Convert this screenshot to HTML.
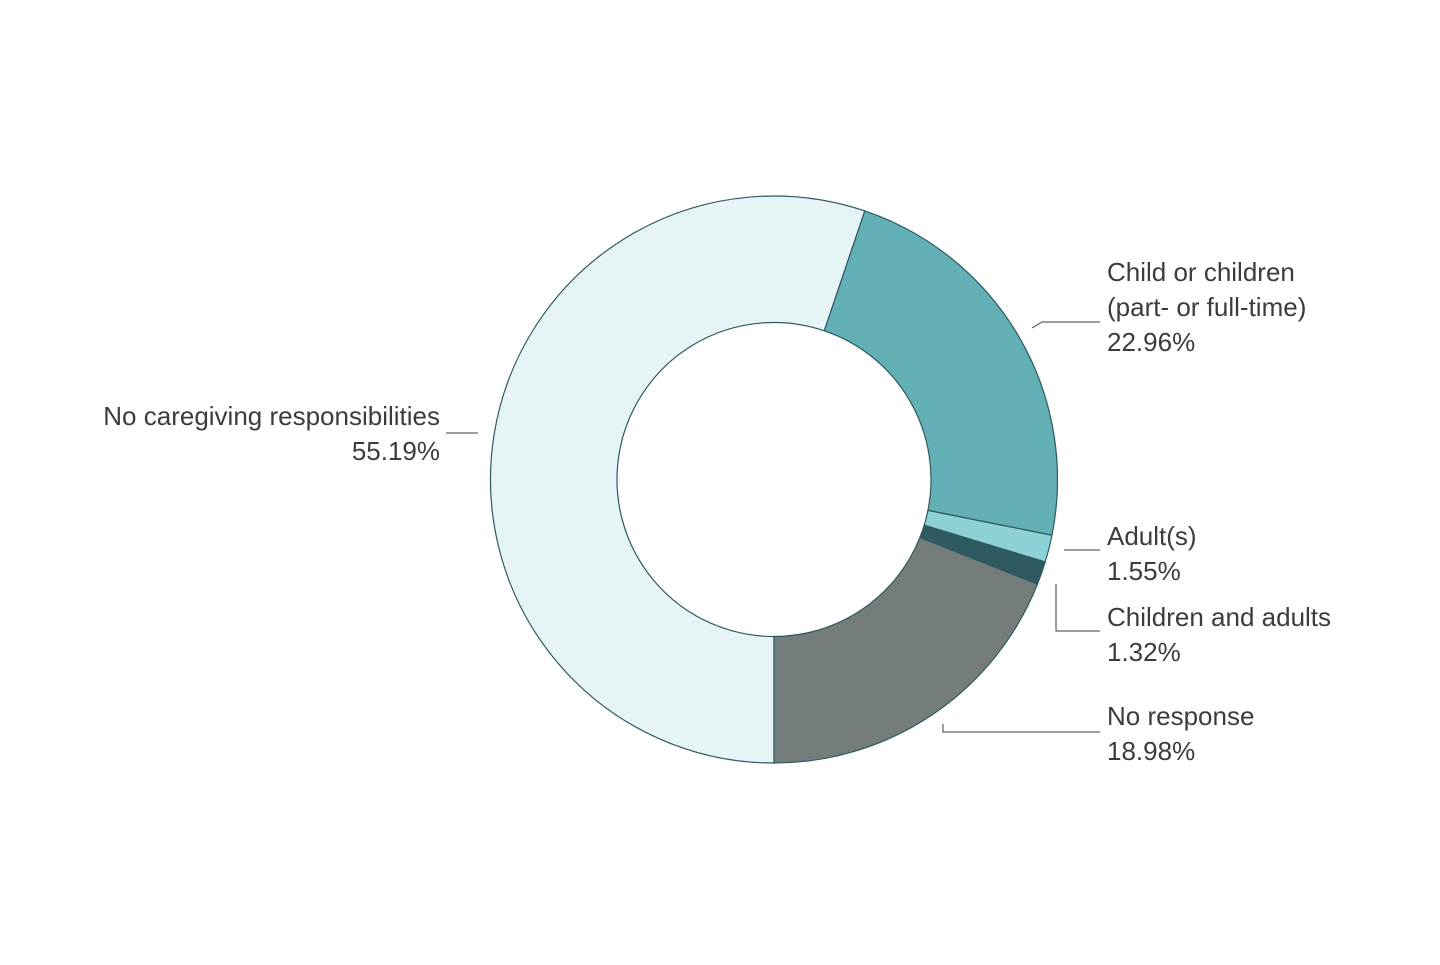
<!DOCTYPE html>
<html><head><meta charset="utf-8"><style>
html,body{margin:0;background:#fff;}
svg text{font-family:"Liberation Sans",sans-serif;font-size:26px;fill:#3a3d3d;}
</style></head><body>
<svg width="1440" height="960">
<g id="slices"></g><g id="labels"></g>
</svg>
<script>
const categories=["No caregiving responsibilities","Child or children (part- or full-time)","Adult(s)","Children and adults","No response"];
const values=[55.19,22.96,1.55,1.32,18.98];
const valueLabels=["55.19%","22.96%","1.55%","1.32%","18.98%"];
const colors=["#e6f4f6","#62b0b5","#8dd1d6","#2e5a60","#747d7b"];
const cx=774,cy=479.5,R=283.5,r=157,start=180;
const total=values.reduce((a,b)=>a+b,0);
function pt(deg,rad){const a=deg*Math.PI/180;return [cx+rad*Math.sin(a),cy-rad*Math.cos(a)];}
const ns="http://www.w3.org/2000/svg";
const g=document.getElementById('slices');
let a0=start;
values.forEach((v,i)=>{
 const a1=a0+v/total*360;const large=(a1-a0)>180?1:0;
 const p1=pt(a0,R),p2=pt(a1,R),p3=pt(a1,r),p4=pt(a0,r);
 const p=document.createElementNS(ns,'path');
 p.setAttribute('d',`M${p1}A${R},${R} 0 ${large} 1 ${p2}L${p3}A${r},${r} 0 ${large} 0 ${p4}Z`);
 p.setAttribute('fill',colors[i]);p.setAttribute('stroke','#2e5a60');p.setAttribute('stroke-width','1.2');
 
 
 g.appendChild(p);a0=a1;
});
const L=document.getElementById('labels');
// label layouts: [lines, x, y(first baseline), anchor, leader polyline]
const layout=[
 [["No caregiving responsibilities"],440,425,"end","446,433 478,433"],
 [["Child or children","(part- or full-time)"],1107,281,"start","1032,328 1042,322 1100,322"],
 [["Adult(s)"],1107,545,"start","1064,550 1100,550"],
 [["Children and adults"],1107,626,"start","1056,584 1056,631 1100,631"],
 [["No response"],1107,725,"start","943,724 943,732 1100,732"]
];
layout.forEach((l,i)=>{
 const lines=[...l[0],valueLabels[i]];
 lines.forEach((s,j)=>{
  const t=document.createElementNS(ns,'text');
  t.setAttribute('x',l[1]);t.setAttribute('y',l[2]+j*35);t.setAttribute('text-anchor',l[3]);
  t.textContent=s;
  
  
  L.appendChild(t);
 });
 const pl=document.createElementNS(ns,'polyline');
 pl.setAttribute('points',l[4]);pl.setAttribute('fill','none');pl.setAttribute('stroke','#3a3d3d');pl.setAttribute('stroke-width','1');
 
 
 L.appendChild(pl);
});
</script>
</body></html>
